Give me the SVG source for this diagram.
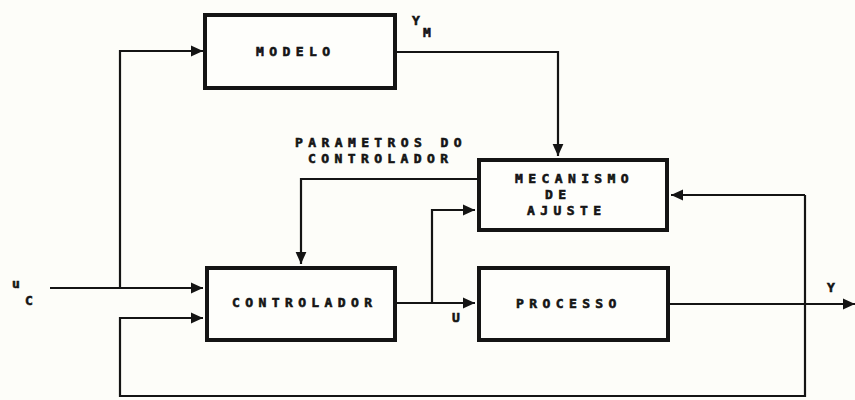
<svg xmlns="http://www.w3.org/2000/svg" width="855" height="400" viewBox="0 0 855 400">
  <defs>
    <style>
      .box { fill: #fefefb; stroke: #141414; stroke-width: 4; }
      .wire { fill: none; stroke: #141414; stroke-width: 2.2; }
      .lbl { font-family: "DejaVu Sans Mono", "Liberation Mono", monospace; font-weight: bold; font-size: 13px; letter-spacing: 5.4px; fill: #141414; stroke: #141414; stroke-width: 0.6; }
      .sym { font-family: "DejaVu Sans Mono", "Liberation Mono", monospace; font-weight: bold; font-size: 13px; fill: #141414; stroke: #141414; stroke-width: 0.6; }
    </style>
    <marker id="arr" markerUnits="userSpaceOnUse" markerWidth="12" markerHeight="12" viewBox="0 0 10 10" refX="10" refY="5" orient="auto">
      <path d="M0,0.5 L10,5 L0,9.5 Z" fill="#141414"/>
    </marker>
  </defs>
  <rect width="855" height="400" fill="#fdfdf9"/>

  <g id="connectors">
    <path class="wire" d="M50,288 H203" marker-end="url(#arr)"/>
    <path class="wire" d="M120,288 V51 H203" marker-end="url(#arr)"/>
    <path class="wire" d="M397,52 H558 V156" marker-end="url(#arr)"/>
    <path class="wire" d="M477,179 H301 V264" marker-end="url(#arr)"/>
    <path class="wire" d="M397,303 H475" marker-end="url(#arr)"/>
    <path class="wire" d="M432,303 V210 H475" marker-end="url(#arr)"/>
    <path class="wire" d="M670,304 H855" marker-end="url(#arr)"/>
    <path class="wire" d="M805,195 V396 H120 V318 H203" marker-end="url(#arr)"/>
    <path class="wire" d="M805,195 H671" marker-end="url(#arr)"/>
  </g>

  <g id="modelo">
    <rect class="box" x="205" y="15" width="190" height="73"/>
    <text class="lbl" x="256" y="56">MODELO</text>
  </g>

  <g id="mecanismo">
    <rect class="box" x="479" y="160" width="188" height="70"/>
    <text class="lbl" x="515" y="183">MECANISMO</text>
    <text class="lbl" x="545" y="199">DE</text>
    <text class="lbl" x="527" y="215">AJUSTE</text>
  </g>

  <g id="controlador">
    <rect class="box" x="207" y="268" width="188" height="72"/>
    <text class="lbl" x="232" y="307">CONTROLADOR</text>
  </g>

  <g id="processo">
    <rect class="box" x="479" y="268" width="189" height="72"/>
    <text class="lbl" x="516" y="308">PROCESSO</text>
  </g>

  <g id="labels">
    <text class="lbl" x="295" y="147">PARAMETROS DO</text>
    <text class="lbl" x="308" y="163">CONTROLADOR</text>
    <text class="sym" x="412" y="25">Y</text>
    <text class="sym" x="423" y="37">M</text>
    <text class="sym" x="12" y="288">u</text>
    <text class="sym" x="25" y="305">C</text>
    <text class="sym" x="452" y="322">U</text>
    <text class="sym" x="827" y="292">Y</text>
  </g>
</svg>
